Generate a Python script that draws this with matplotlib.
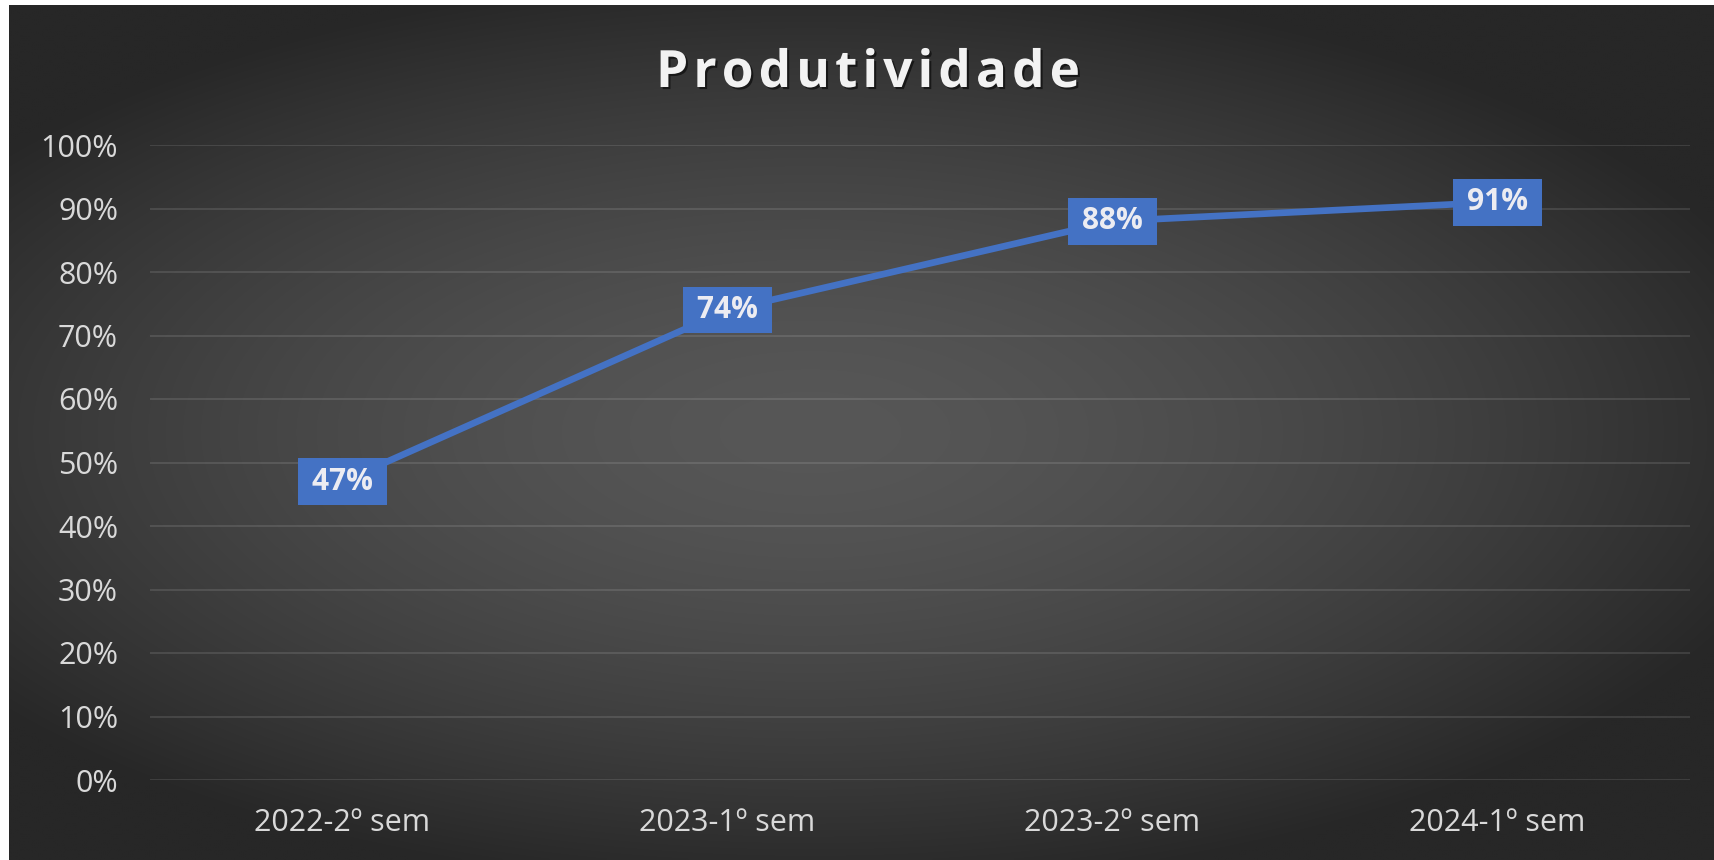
import matplotlib
matplotlib.use("Agg")
import matplotlib.pyplot as plt
import matplotlib.patheffects as pe
import numpy as np

categories = ["2022-2º sem", "2023-1º sem", "2023-2º sem", "2024-1º sem"]
values = [0.47, 0.74, 0.88, 0.91]
title = "Produtividade"

W, H, DPI = 1714, 860, 100
plt.rcParams['font.family'] = ['Open Sans', 'DejaVu Sans']

fig = plt.figure(figsize=(W / DPI, H / DPI), dpi=DPI, facecolor='white')

# radial gradient background (screenshot has a thin white edge top/left)
bg = fig.add_axes([9 / W, 0, 1 - 9 / W, 1 - 5 / H], zorder=0)
yy, xx = np.mgrid[0:1:300j, 0:1:600j]
r = np.sqrt(((xx - 0.47) / 1.0) ** 2 + ((yy - 0.5) / 0.9) ** 2)
t = np.clip(r / 0.6, 0, 1) ** 1.6
c0, c1 = 0x57 / 255, 0x27 / 255
img = c0 + (c1 - c0) * t
bg.imshow(np.dstack([img, img, img]), aspect='auto', extent=(0, 1, 0, 1),
          interpolation='bilinear')
bg.axis('off')

ax = fig.add_axes([150 / W, (H - 780) / H, 1540 / W, 635 / H], zorder=1)
ax.patch.set_alpha(0)
x = np.arange(len(categories))
ax.plot(x, values, color='#4472C4', lw=4.8, solid_capstyle='round', zorder=3)

for xi, v in zip(x, values):
    ax.text(xi, v, f"\u2009{round(v * 100)}%\u2009", ha='center', va='center',
            fontsize=21.5, fontweight='bold', color='#ececf2', zorder=4,
            bbox=dict(boxstyle='square,pad=0.28', fc='#4472C4', ec='none'))

ax.set_xlim(-0.5, len(categories) - 0.5)
ax.set_ylim(0, 1)
ax.set_yticks(np.arange(0, 1.01, 0.1))
ax.set_yticklabels([f"{int(round(t * 100))}%" for t in np.arange(0, 1.01, 0.1)])
ax.set_xticks(x)
ax.set_xticklabels(categories)
ax.tick_params(axis='y', length=0, pad=23, labelsize=22, labelcolor='#d9d9d9')
ax.tick_params(axis='x', length=0, pad=20, labelsize=22, labelcolor='#d9d9d9')
ax.grid(axis='y', color='white', alpha=0.11, lw=1.5)
ax.set_axisbelow(True)
for s in ax.spines.values():
    s.set_visible(False)

# letter-spaced title with a soft shadow
fig.canvas.draw()
rend = fig.canvas.get_renderer()
tkw = dict(fontsize=37, fontweight='bold', color='#f2f2f2')
widths = []
for ch in title:
    tt = fig.text(0, 0, ch, **tkw)
    widths.append(tt.get_window_extent(rend).width)
    tt.remove()
left, right = 656, 1080
gap = (right - left - sum(widths)) / (len(title) - 1)
px = left
for ch, w in zip(title, widths):
    fig.text(px / W, (H - 87) / H, ch, ha='left', va='baseline', zorder=5,
             path_effects=[pe.withSimplePatchShadow(offset=(1.5, -1.5),
                                                    shadow_rgbFace='black',
                                                    alpha=0.55)],
             **tkw)
    px += w + gap

fig.savefig("out.png", dpi=DPI, facecolor=fig.get_facecolor())
